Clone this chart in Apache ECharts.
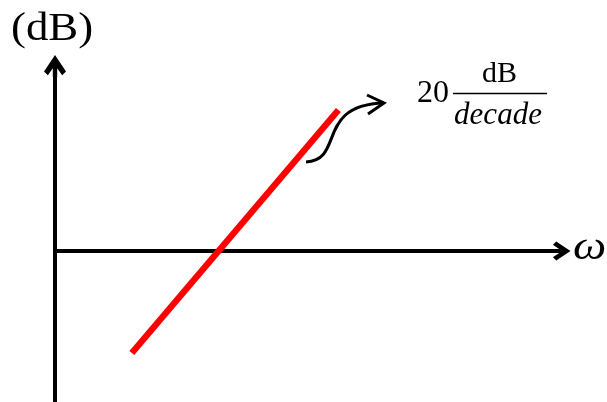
<!DOCTYPE html>
<html>
<head>
<meta charset="utf-8">
<script src="https://cdn.jsdelivr.net/npm/echarts@6/dist/echarts.min.js"></script>
<style>
  html, body { margin: 0; padding: 0; background: #fff; }
  #chart { width: 607px; height: 402px; }
</style>
</head>
<body>
<div id="chart"></div>
<script>
// asymptote: +20 dB/decade, drawn on a log omega axis
const omegaRange = [0.1, 100];
const dbRange = [-15.1, 18.5];
const omega = [0.2855, 4.79];
const gainDb = [-10.2, 14.1];

// open chevron with a stem, points up (echarts rotates it along the axis)
const chevron = 'path://M10,0 L20,15 L16.5,18.5 L12,12 L12,20 L8,20 L8,12 L3.5,18.5 L0,15 Z';

const serif = '"Liberation Serif", "Times New Roman", serif';

const chart = echarts.init(document.getElementById('chart'));

const option = {
  animation: false,
  backgroundColor: '#fff',
  grid: { left: 55, right: 46, top: 66, bottom: 0 },
  xAxis: {
    type: 'log',
    logBase: 10,
    min: omegaRange[0],
    max: omegaRange[1],
    axisLine: {
      onZero: true,
      symbol: ['none', chevron],
      symbolSize: [22, 19],
      lineStyle: { color: '#000', width: 4 }
    },
    axisTick: { show: false },
    axisLabel: { show: false },
    splitLine: { show: false }
  },
  yAxis: {
    type: 'value',
    min: dbRange[0],
    max: dbRange[1],
    axisLine: {
      show: true,
      symbol: ['none', chevron],
      symbolSize: [24, 22],
      lineStyle: { color: '#000', width: 4 }
    },
    axisTick: { show: false },
    axisLabel: { show: false },
    splitLine: { show: false }
  },
  series: [
    {
      type: 'line',
      data: omega.map((w, i) => [w, gainDb[i]]),
      showSymbol: false,
      lineStyle: { color: '#ff0000', width: 6.5, cap: 'butt' }
    }
  ],
  graphic: [
    {
      type: 'text',
      x: 11, y: 9, scaleX: 1.12,
      style: { x: 0, y: 0, text: '(dB)', font: '40px ' + serif, fill: '#000' }
    },
    {
      type: 'text',
      x: 573, y: 228, scaleX: 1.15,
      style: { x: 0, y: 0, text: 'ω', font: 'italic 41px ' + serif, fill: '#000' }
    },
    // 20 dB/decade label
    {
      type: 'text',
      style: { x: 433, y: 78, text: '20', font: '32px ' + serif, fill: '#000', align: 'center' }
    },
    {
      type: 'text',
      style: { x: 499.5, y: 59, text: 'dB', font: '30px ' + serif, fill: '#000', align: 'center' }
    },
    {
      type: 'line',
      shape: { x1: 453, y1: 93.5, x2: 547, y2: 93.5 },
      style: { stroke: '#000', lineWidth: 1.5 }
    },
    {
      type: 'text',
      style: { x: 498, y: 100, text: 'decade', font: 'italic 31px ' + serif, fill: '#000', align: 'center' }
    },
    // curved pointer from the line to the label
    {
      type: 'bezierCurve',
      shape: { x1: 306, y1: 162, cpx1: 345, cpy1: 160, cpx2: 315, cpy2: 105, x2: 384, y2: 103 },
      style: { stroke: '#000', lineWidth: 3, fill: null }
    },
    {
      type: 'polyline',
      shape: { points: [[367, 95], [384, 103], [368, 114]] },
      style: { stroke: '#000', lineWidth: 3, fill: null, lineJoin: 'miter' }
    }
  ]
};

chart.setOption(option);
window.addEventListener('resize', () => chart.resize());
</script>
</body>
</html>
